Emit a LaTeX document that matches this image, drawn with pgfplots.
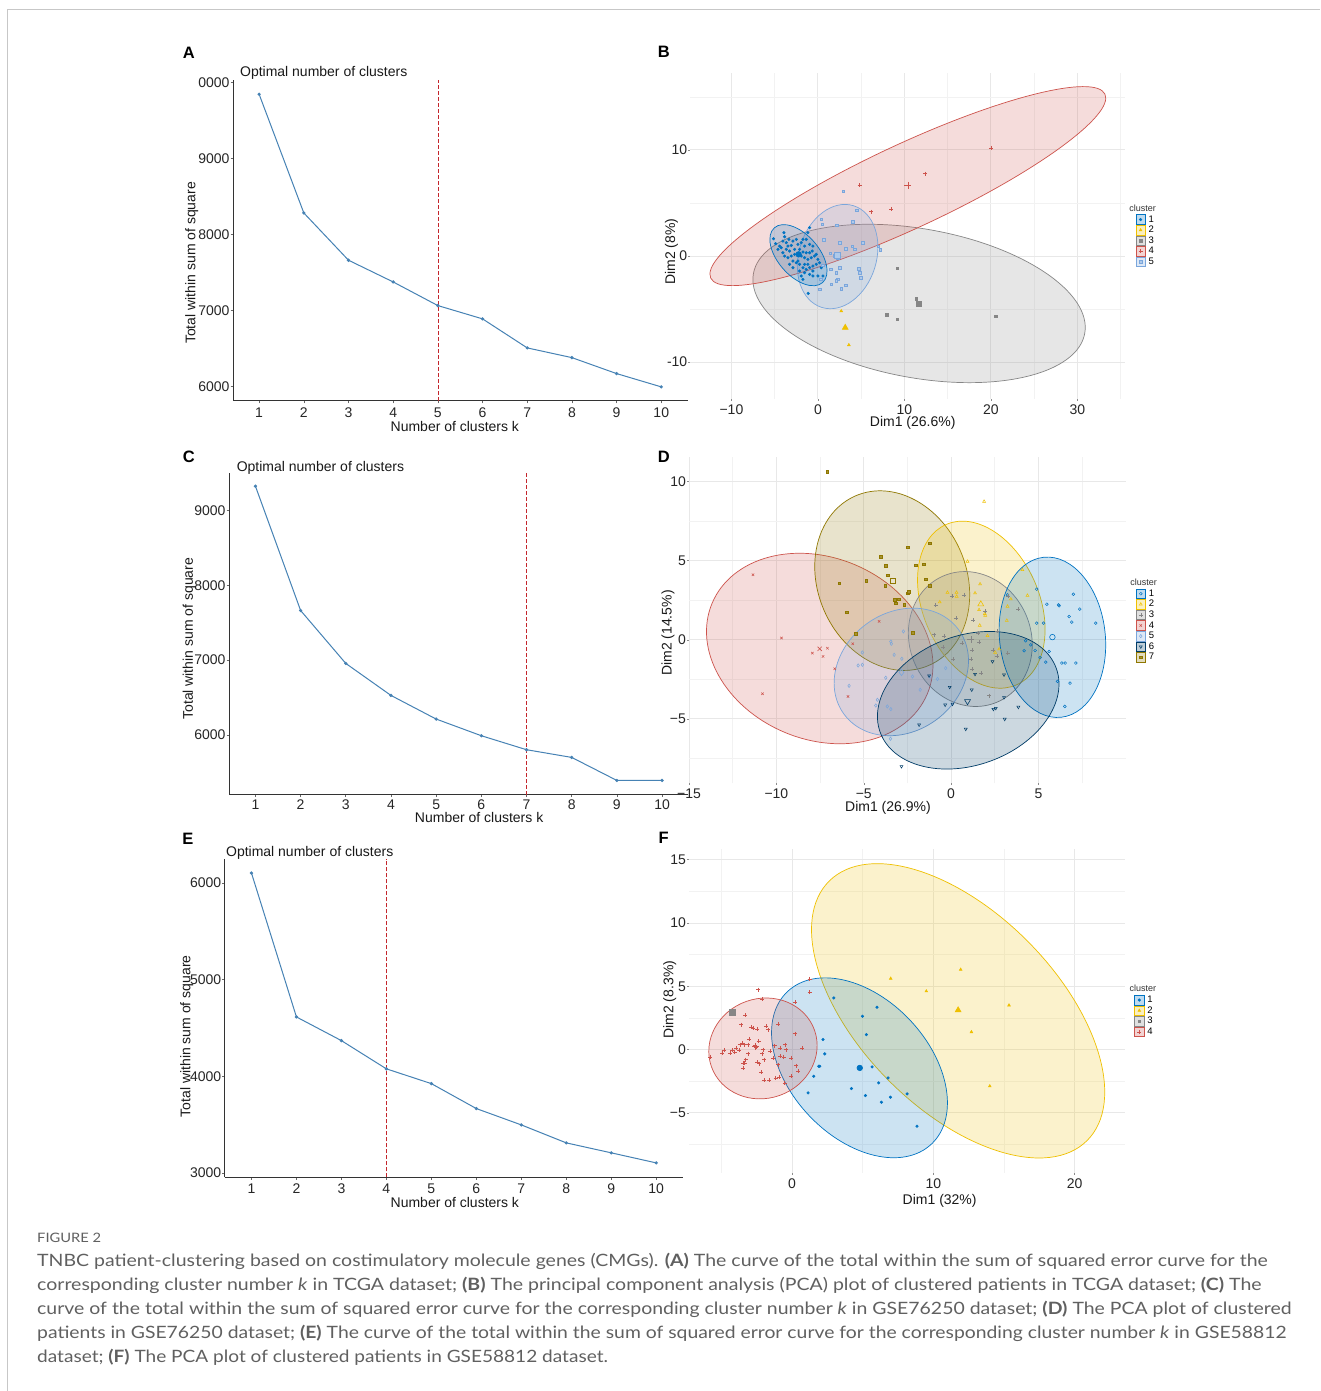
\documentclass[border=0pt]{standalone}
\usepackage{graphicx}
\usepackage{pgfplots}
\pgfplotsset{compat=1.18}
\usepackage{fontspec}
\setmainfont{Liberation Sans}
\newfontfamily\capfont{Lato}
\definecolor{c1}{HTML}{0073C2}
\definecolor{c2}{HTML}{EFC000}
\definecolor{c3}{HTML}{868686}
\definecolor{c4}{HTML}{CD534C}
\definecolor{c5}{HTML}{7AA6DC}
\definecolor{c6}{HTML}{003C67}
\definecolor{c7}{HTML}{8F7700}
\definecolor{steel}{HTML}{4682B4}
\definecolor{vred}{HTML}{C4262C}
\definecolor{capgray}{HTML}{606060}
\newsavebox\capbox
\newcommand\capline[2]{\sbox\capbox{#2}\dimen0=\wd\capbox\pgfmathsetmacro\capr{#1/\the\dimen0}\scalebox{\capr}[1]{\usebox\capbox}}
\newcommand\pcaell[6]{\draw[draw=#1, fill=#1, fill opacity=0.2, line width=0.7pt, rotate around={#4:(axis cs:#2,#3)}] (axis cs:#2,#3) ellipse [x radius=#5pt, y radius=#6pt];}
\pgfplotsset{
  elbow/.style={
    scale only axis, anchor=south west,
    axis x line=bottom, axis y line=left,
    axis line style={-, draw=black!80, line width=0.9pt},
    xtick={1,...,10},
    tick align=outside, major tick length=2.5pt,
    tick style={draw=black!60, line width=0.6pt},
    ticklabel style={font=\fontsize{14}{14}\selectfont, text=black!85, inner sep=0pt},
    xticklabel style={yshift=-4pt},
    yticklabel style={xshift=-1pt},
    /pgf/number format/assume math mode=true,
    /pgf/number format/1000 sep={},
    scaled y ticks=false,
  },
  pca/.style={
    scale only axis, anchor=south west,
    axis x line*=bottom, axis y line*=left,
    axis line style={draw=none},
    grid=both,
    major grid style={draw=black!9, line width=0.9pt},
    minor grid style={draw=black!5, line width=0.6pt},
    tick align=outside, major tick length=2pt, minor tick length=0pt,
    tick style={draw=black!45, line width=0.5pt},
    ticklabel style={font=\fontsize{14}{14}\selectfont, text=black!85, inner sep=0pt},
    xticklabel style={yshift=-4pt},
    yticklabel style={xshift=-1pt},
    /pgf/number format/assume math mode=true,
    legend cell align=left,
    legend style={draw=none, fill=none, anchor=north west, font=\fontsize{9.5}{9.5}\selectfont, inner sep=0pt, row sep=0.4pt, nodes={inner sep=0pt},
      /tikz/every odd column/.append style={column sep=3pt}},
    legend image code/.code={%
      \path[#1, draw, fill, mark=none, fill opacity=0.25, line width=0.6pt] (0pt,-4.8pt) rectangle (9.6pt,4.8pt);
      \draw[#1, only marks] plot coordinates {(4.8pt,0pt)};},
  },
  dot/.style={only marks, mark size=1.3pt, line width=0.5pt},
  ctr/.style={only marks, mark size=2.8pt, line width=0.6pt, forget plot},
  elbowline/.style={color=steel, line width=1pt, mark=*, mark size=1.1pt},
  vline/.style={draw=vred, line width=1.1pt, dash pattern=on 4pt off 2pt, mark=none},
}
\begin{document}
\begin{tikzpicture}
\fill[white] (0pt,0pt) rectangle (1320pt,-1391pt);
\draw[black!22, line width=1pt] (8pt,-1391pt) -- (8pt,-10pt) -- (1320pt,-10pt);

% ---------------- A ----------------
\begin{axis}[elbow, at={(233.3pt,-401pt)}, width=455pt, height=321pt,
  xmin=0.42, xmax=10.6, ymin=5807, ymax=10030,
  ytick={6000,7000,8000,9000,10000}, yticklabels={6000,7000,8000,9000,0000}]
\addplot[elbowline] coordinates {(1,9842) (2,8280) (3,7658) (4,7372) (5,7061) (6,6886) (7,6504) (8,6376) (9,6166) (10,5991)};
\addplot[vline] coordinates {(5.01,5807) (5.01,10030)};
\end{axis}
% ---------------- C ----------------
\begin{axis}[elbow, at={(229.3pt,-795pt)}, width=459.2pt, height=322.3pt,
  xmin=0.42, xmax=10.58, ymin=5199, ymax=9508,
  ytick={6000,7000,8000,9000}, xticklabel style={yshift=2pt}]
\addplot[elbowline] coordinates {(1,9326) (2,7663) (3,6955) (4,6527) (5,6211) (6,5988) (7,5801) (8,5698) (9,5390) (10,5390)};
\addplot[vline] coordinates {(7,5199) (7,9508)};
\end{axis}
% ---------------- E ----------------
\begin{axis}[elbow, at={(225pt,-1177.7pt)}, width=458pt, height=318.4pt,
  xmin=0.41, xmax=10.59, ymin=2955, ymax=6248,
  ytick={3000,4000,5000,6000}]
\addplot[elbowline] coordinates {(1,6103) (2,4614) (3,4369) (4,4077) (5,3924) (6,3666) (7,3497) (8,3311) (9,3208) (10,3104)};
\addplot[vline] coordinates {(4,2955) (4,6248)};
\end{axis}

% ---------------- B ----------------
\begin{axis}[pca, at={(690.7pt,-399pt)}, width=435pt, height=326.3pt,
  xmin=-14.74, xmax=35.55, ymin=-13.46, ymax=17.28,
  xtick={-10,0,10,20,30}, xticklabels={−10,0,10,20,30},
  minor xtick={-5,5,15,25,35},
  ytick={-10,0,10}, yticklabels={-10,0,10}, minor ytick={-5,5,15},
  legend style={at={(1.023,0.566)}}]
\pcaell{c3}{11.70}{-4.47}{-10.25}{168.4}{74.5}
\pcaell{c4}{10.40}{6.59}{25}{217.6}{42}
\pcaell{c5}{2.28}{-0.05}{72.6}{53.3}{38.8}
\pcaell{c1}{-2.25}{0.08}{-48.7}{36.5}{20.5}
\addplot[dot, c1, mark=*] coordinates {(-5.13,1.63)(-4.89,1.16)(-3.93,2.20)(-3.85,1.82)(-4.05,1.41)(-3.66,1.26)(-3.47,0.94)(-3.08,1.0)(-2.89,1.41)(-2.5,1.57)(-2.31,1.10)(-1.93,1.26)(-1.54,0.94)(-1.35,1.57)(-1.16,2.20)(-0.96,1.10)(-0.58,0.94)(-0.66,0.47)(-0.96,0.31)(-1.35,0.31)(-1.73,0.38)(-2.12,0.63)(-2.70,0.63)(-3.28,0.47)(-3.66,0.63)(-4.05,0.31)(-3.85,0.0)(-3.47,-0.16)(-3.08,0.0)(-2.70,0.16)(-1.93,0.0)(-1.54,-0.16)(-1.16,-0.31)(-0.77,-0.16)(-0.39,0.0)(0.0,-0.31)(0.19,-0.63)(-0.19,-0.78)(-0.58,-0.94)(-0.96,-1.10)(-1.35,-1.26)(-1.73,-1.10)(-2.12,-0.78)(-2.50,-0.63)(-2.89,-0.47)(-3.28,-0.78)(-2.12,-1.41)(-1.54,-1.57)(-0.96,-1.73)(-0.58,-1.88)(0.0,-1.88)(0.58,-1.88)(-1.73,-2.20)(0.39,-1.10)(-0.19,0.16)(-4.43,0.94)(-4.62,0.63)(-4.24,0.78)(-2.31,-0.47)(-1.54,-0.78)(-1.16,-0.78)(-0.58,-1.41)(-1.93,-1.88)(-1.12,-3.52)(-1.73,1.57)(-2.89,-1.10)(-3.35,1.57)(-0.96,2.67)};
\addlegendentry{1}
\addplot[dot, c2, mark=triangle*, mark size=1.6pt] coordinates {(2.70,-5.18)(3.58,-8.38)};
\addlegendentry{2}
\addplot[dot, c3, mark=square*] coordinates {(9.17,-1.16)(11.37,-4.05)(7.98,-5.56)(9.17,-5.97)(20.6,-5.68)};
\addlegendentry{3}
\addplot[dot, c4, mark=+, mark size=2pt] coordinates {(4.82,6.66)(12.4,7.76)(20.0,10.2)(6.17,4.18)(8.48,4.43)};
\addlegendentry{4}
\addplot[dot, c5, mark=square*, mark options={fill=c5!60}] coordinates {(0.39,3.45)(0.50,2.98)(2.20,2.89)(4.05,3.23)(4.51,4.33)(0.69,1.51)(1.43,0.25)(1.93,0.0)(2.31,-0.16)(2.50,1.26)(3.20,0.69)(3.97,0.94)(4.24,0.63)(5.20,1.26)(7.0,0.94)(7.2,0.57)(1.46,-1.26)(2.12,-1.57)(2.50,-1.10)(2.31,-2.20)(2.12,-2.35)(1.54,-2.67)(2.70,-3.08)(3.20,-2.76)(4.70,-1.19)(4.82,-1.57)(4.93,-2.07)(0.31,-2.20)(0.19,-3.14)(0.58,-0.88)(2.93,6.12)};
\addlegendentry{5}
\addplot[ctr, c1, mark=*] coordinates {(-2.23,0.16)};
\addplot[ctr, c2, mark=triangle*, mark size=3.4pt] coordinates {(3.16,-6.75)};
\addplot[ctr, c3, mark=square*] coordinates {(11.68,-4.49)};
\addplot[ctr, c4, mark=+, mark size=3.6pt] coordinates {(10.4,6.66)};
\addplot[ctr, c5, mark=square*, mark options={fill=c5!60}] coordinates {(2.24,0.06)};
\end{axis}

% ---------------- D ----------------
\begin{axis}[pca, at={(689.3pt,-783.3pt)}, width=437.4pt, height=326.6pt,
  xmin=-15, xmax=10.03, ymin=-9.05, ymax=11.58,
  xtick={-15,-10,-5,0,5}, xticklabels={−15,−10,−5,0,5},
  minor xtick={-12.5,-7.5,-2.5,2.5,7.5},
  ytick={-5,0,5,10}, yticklabels={−5,0,5,10}, minor ytick={-7.5,-2.5,2.5,7.5},
  legend style={at={(1.021,0.596)}}]
\pcaell{c4}{-7.52}{-0.55}{-22.9}{116.8}{90.9}
\pcaell{c7}{-3.37}{3.74}{-66.7}{92.4}{74.4}
\pcaell{c2}{1.73}{2.22}{-66.3}{87.6}{58.1}
\pcaell{c3}{1.10}{0.05}{-67.1}{68.6}{60.7}
\pcaell{c1}{5.80}{0.16}{-83.7}{80.5}{52.9}
\pcaell{c5}{-2.85}{-2.03}{36.7}{71.2}{59.3}
\pcaell{c6}{0.98}{-3.82}{20}{93.7}{64.8}
\addplot[dot, c1, mark=o, mark size=1.4pt] coordinates {(4.9,3.2)(5.48,2.25)(6.15,2.21)(6.18,2.15)(7.0,2.88)(7.37,1.94)(6.76,1.47)(6.91,1.12)(8.28,1.05)(4.9,1.05)(5.29,1.05)(4.27,-0.06)(4.56,-0.32)(4.81,-0.67)(4.18,-0.69)(5.61,-0.74)(5.10,-1.12)(5.42,-1.41)(6.34,-1.47)(6.53,-1.47)(7.14,-1.47)(6.09,-2.63)(6.81,-2.74)(6.51,-4.21)(3.23,2.84)};
\addlegendentry{1}
\addplot[dot, c2, mark=triangle, mark size=1.7pt] coordinates {(1.89,8.74)(0.94,4.95)(1.66,3.52)(-0.21,2.99)(0.31,2.99)(1.37,2.95)(0.32,2.74)(1.60,1.89)(1.93,1.64)(1.95,1.54)(-0.65,2.38)(1.64,0.91)(2.08,0.25)(2.75,-0.59)(3.23,2.11)(3.42,2.57)(3.19,1.22)(4.08,4.42)(4.37,2.8)(2.52,-0.8)};
\addlegendentry{2}
\addplot[dot, c3, mark=+, mark size=2pt] coordinates {(0.08,2.74)(-0.88,2.17)(0.27,1.37)(0.74,2.84)(1.26,1.22)(1.93,1.79)(1.55,0.42)(1.60,-0.17)(1.22,-0.63)(0.61,-0.21)(2.42,-0.67)(2.65,-1.01)(3.23,-0.84)(3.28,2.74)(3.85,1.94)(-0.44,-0.46)(0.11,-1.22)(1.16,-1.22)(1.22,-1.83)(1.70,-2.11)(2.18,-3.52)(2.65,0.57)(-0.38,0.21)(-0.97,0.32)};
\addlegendentry{3}
\addplot[dot, c4, mark=x, mark size=1.7pt] coordinates {(-11.34,4.11)(-9.71,0.11)(-7.94,-0.84)(-7.33,-1.05)(-7.08,-0.53)(-6.66,-1.83)(-10.8,-3.41)(-5.63,-0.25)(-4.12,1.16)(-5.9,-3.58)};
\addlegendentry{4}
\addplot[dot, c5, mark=diamond, mark size=1.7pt] coordinates {(-3.45,-0.11)(-3.42,-0.25)(-2.73,0.53)(-3.26,-0.95)(-2.82,-1.2)(-5.08,-0.8)(-5.32,-1.62)(-5.08,-1.58)(-5.84,-2.91)(-3.74,-2.4)(-4.22,-3.79)(-4.31,-4.15)(-3.65,-4.21)(-3.45,-4.38)(-2.21,-2.32)(-1.77,-3.16)(-1.22,-2.32)(-0.78,-2.48)(-0.31,-1.79)(-3.47,-6.25)};
\addlegendentry{5}
\addplot[dot, c6, mark=triangle, mark options={rotate=180}, mark size=1.7pt] coordinates {(-2.84,-8.0)(-1.83,-5.37)(-0.08,-2.99)(-0.34,-4.11)(0.08,-4.06)(1.18,-3.16)(1.37,-2.17)(0.84,-5.64)(2.37,-1.37)(2.42,-4.38)(2.56,-4.32)(3.03,-3.64)(3.07,-5.01)(3.85,-4.25)(3.03,-2.21)(-1.26,-2.27)};
\addlegendentry{6}
\addplot[dot, c7, mark=square*, mark options={fill=c7!80}] coordinates {(-7.08,10.63)(-4.03,5.26)(-3.74,4.67)(-3.61,4.08)(-2.48,5.85)(-1.22,6.11)(-2.04,4.72)(-1.58,4.78)(-6.41,3.58)(-4.85,3.75)(-3.78,3.41)(-3.24,2.53)(-3.17,2.32)(-2.98,2.57)(-2.48,2.95)(-2.44,3.05)(-2.69,2.21)(-5.99,1.75)(-5.46,0.38)(-2.21,0.46)(-1.45,3.83)(-1.22,3.41)};
\addlegendentry{7}
\addplot[ctr, c1, mark=o] coordinates {(5.8,0.17)};
\addplot[ctr, c2, mark=triangle, mark size=3.4pt] coordinates {(1.70,2.25)};
\addplot[ctr, c3, mark=+, mark size=3.4pt] coordinates {(1.13,0.04)};
\addplot[ctr, c4, mark=x, mark size=3pt] coordinates {(-7.52,-0.57)};
\addplot[ctr, c5, mark=diamond, mark size=3.2pt] coordinates {(-2.84,-2.06)};
\addplot[ctr, c6, mark=triangle, mark options={rotate=180}, mark size=3.4pt] coordinates {(0.94,-3.89)};
\addplot[ctr, c7, mark=square, mark size=2.6pt] coordinates {(-3.36,3.73)};
\end{axis}

% ---------------- F ----------------
\begin{axis}[pca, at={(689.3pt,-1173.3pt)}, width=436.4pt, height=324pt,
  xmin=-7.29, xmax=23.58, ymin=-9.74, ymax=15.84,
  xtick={0,10,20}, xticklabels={0,10,20}, minor xtick={-5,5,15},
  ytick={-5,0,5,10,15}, yticklabels={−5,0,5,10,15}, minor ytick={-7.5,-2.5,2.5,7.5,12.5},
  legend style={at={(1.020,0.550)}}]
\pcaell{c2}{11.75}{3.06}{-45.2}{183}{98.4}
\pcaell{c1}{4.77}{-1.44}{-46.65}{104.9}{69.5}
\pcaell{c4}{-2.06}{0.09}{19.5}{54.7}{49.9}
\addplot[dot, c1, mark=*] coordinates {(2.95,4.08)(4.98,2.63)(6.01,3.34)(5.26,1.18)(2.19,0.79)(2.31,-0.34)(1.89,-1.32)(1.96,-1.32)(1.53,-2.11)(5.66,-1.37)(6.13,-2.63)(6.79,-2.24)(4.2,-3.08)(5.19,-3.63)(6.32,-4.16)(6.96,-3.76)(8.14,-3.5)(8.84,-6.05)(1.13,-3.42)};
\addlegendentry{1}
\addplot[dot, c2, mark=triangle*, mark size=1.6pt] coordinates {(6.98,5.61)(11.93,6.32)(9.5,4.61)(15.35,3.5)(12.69,1.39)(13.99,-2.89)};
\addlegendentry{2}
\addplot[dot, c3, mark=square*] coordinates {(-4.25,2.95)};
\addlegendentry{3}
\addplot[dot, c4, mark=+, mark size=2pt] coordinates {(-2.41,4.74)(-2.10,4.0)(1.25,5.58)(1.25,4.53)(0.24,3.74)(-3.30,2.71)(-0.99,2.03)(-3.58,1.97)(-2.88,1.76)(-2.76,1.71)(-2.45,1.63)(-1.86,1.84)(-1.70,1.58)(0.19,1.26)(-3.04,0.84)(-2.36,0.66)(-3.94,0.13)(-3.70,0.39)(-3.51,0.53)(-3.35,0.39)(-3.11,0.39)(-2.64,0.32)(-2.52,0.21)(-2.05,0.0)(-1.23,0.32)(-0.87,0.13)(-0.47,0.39)(-0.40,0.0)(0.71,0.13)(-4.83,-0.05)(-4.93,-0.26)(-5.78,-0.58)(-4.22,-0.05)(-4.41,-0.26)(-4.06,-0.21)(-3.77,-0.05)(-3.11,-0.32)(-2.10,-0.32)(-1.58,-0.13)(-0.83,-0.53)(-0.59,-0.58)(-0.05,-0.66)(-3.28,-0.79)(-3.47,-1.05)(-3.35,-1.05)(-2.48,-1.0)(-2.33,-1.11)(-1.98,-0.79)(-1.34,-0.66)(-0.99,-1.18)(0.31,-1.26)(0.42,-1.71)(-3.47,-1.45)(-2.17,-1.79)(-1.63,-2.42)(-2.0,-2.42)(-1.16,-2.24)(-0.05,-2.11)(-0.52,-2.63)(-0.92,-2.16)};
\addlegendentry{4}
\addplot[ctr, c1, mark=*] coordinates {(4.79,-1.45)};
\addplot[ctr, c2, mark=triangle*, mark size=3.4pt] coordinates {(11.75,3.11)};
\addplot[ctr, c3, mark=square*] coordinates {(-4.25,2.95)};
\addplot[ctr, c4, mark=+, mark size=3.4pt] coordinates {(-2.59,0.26)};
\end{axis}

% ---------------- texts ----------------
\tikzset{lab/.style={font=\fontsize{14}{14}\selectfont, text=black!90, inner sep=0pt},
         let/.style={font=\bfseries\fontsize{16.5}{16.5}\selectfont, inner sep=0pt},
         leg/.style={font=\fontsize{9}{9}\selectfont, text=black!80, inner sep=0pt}}
\node[let] at (189pt,-52.7pt) {A};
\node[let] at (664pt,-52pt) {B};
\node[let] at (189pt,-457.3pt) {C};
\node[let] at (664pt,-457.3pt) {D};
\node[let] at (188pt,-839.3pt) {E};
\node[let] at (664pt,-838pt) {F};
\node[lab, anchor=west] at (240pt,-72.7pt) {Optimal number of clusters};
\node[lab, anchor=west] at (236.7pt,-468.3pt) {Optimal number of clusters};
\node[lab, anchor=west] at (226pt,-852.7pt) {Optimal number of clusters};
\node[lab] at (455pt,-426.5pt) {Number of clusters k};
\node[lab] at (479.3pt,-817.5pt) {Number of clusters k};
\node[lab] at (455pt,-1202.5pt) {Number of clusters k};
\node[lab, rotate=90] at (191.7pt,-263pt) {Total within sum of square};
\node[lab, rotate=90] at (189.3pt,-639pt) {Total within sum of square};
\node[lab, rotate=90] at (186.7pt,-1036.7pt) {Total within sum of square};
\node[lab] at (913pt,-423pt) {Dim1 (26.6\%)};
\node[lab] at (888.3pt,-808.5pt) {Dim1 (26.9\%)};
\node[lab] at (940pt,-1201pt) {Dim1 (32\%)};
\node[lab, rotate=90] at (671.7pt,-251.7pt) {Dim2 (8\%)};
\node[lab, rotate=90] at (668.3pt,-633.3pt) {Dim2 (14.5\%)};
\node[lab, rotate=90] at (670pt,-1000pt) {Dim2 (8.3\%)};
\node[leg] at (1143pt,-208.3pt) {cluster};
\node[leg] at (1144pt,-582.3pt) {cluster};
\node[leg] at (1143.3pt,-988.3pt) {cluster};

% ---------------- caption ----------------
\begin{scope}[every node/.style={anchor=base west, inner sep=0pt, text=capgray}]
\node at (37pt,-1243pt) {\capfont\fontsize{13}{13}\selectfont\capline{64}{FIGURE 2}};
\node at (37pt,-1267pt) {\capfont\fontsize{17}{17}\selectfont\capline{1231}{TNBC patient-clustering based on costimulatory molecule genes (CMGs). \textbf{(A)} The curve of the total within the sum of squared error curve for the}};
\node at (37pt,-1291pt) {\capfont\fontsize{17}{17}\selectfont\capline{1225}{corresponding cluster number \textit{k} in TCGA dataset; \textbf{(B)} The principal component analysis (PCA) plot of clustered patients in TCGA dataset; \textbf{(C)} The}};
\node at (37pt,-1315pt) {\capfont\fontsize{17}{17}\selectfont\capline{1255}{curve of the total within the sum of squared error curve for the corresponding cluster number \textit{k} in GSE76250 dataset; \textbf{(D)} The PCA plot of clustered}};
\node at (37pt,-1339pt) {\capfont\fontsize{17}{17}\selectfont\capline{1250}{patients in GSE76250 dataset; \textbf{(E)} The curve of the total within the sum of squared error curve for the corresponding cluster number \textit{k} in GSE58812}};
\node at (37pt,-1363pt) {\capfont\fontsize{17}{17}\selectfont\capline{571}{dataset; \textbf{(F)} The PCA plot of clustered patients in GSE58812 dataset.}};
\end{scope}
\useasboundingbox (0pt,0pt) rectangle (1320pt,-1391pt);
\end{tikzpicture}
\end{document}
